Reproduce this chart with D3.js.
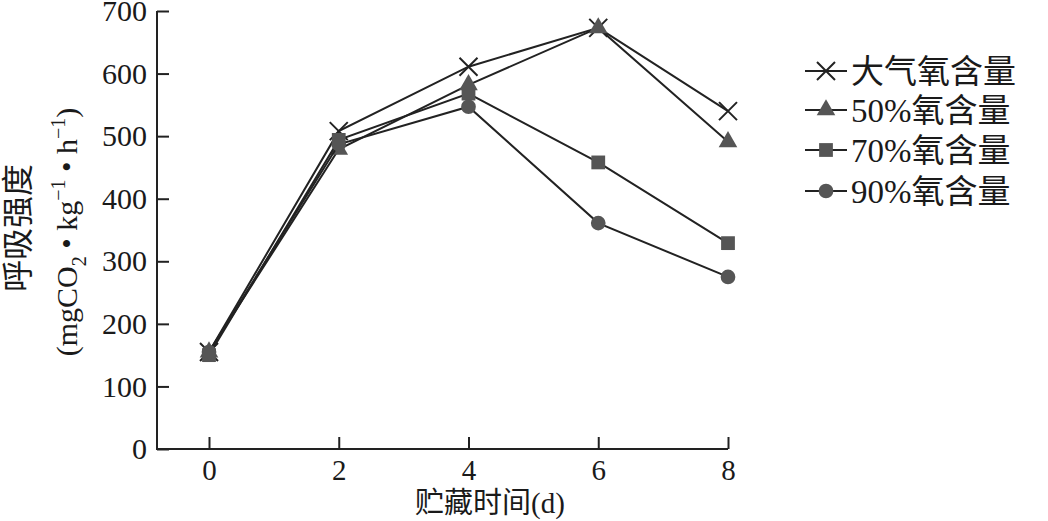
<!DOCTYPE html>
<html>
<head>
<meta charset="utf-8">
<script src="https://cdn.jsdelivr.net/npm/d3@7"></script>
<style>
  body { margin: 0; background: #fff; }
  svg text { font-family: "Liberation Serif", "Times New Roman", "Noto Sans CJK SC", serif; fill: #1a1a1a; }
</style>
</head>
<body>
<svg id="chart" width="1048" height="521"></svg>
<script>
// storage days
var days = [0, 2, 4, 6, 8];
var yTicks = [0, 100, 200, 300, 400, 500, 600, 700];

// respiration, mg CO2 / kg / h
var airO2 = [155, 508, 611, 673, 540];
var o2_50 = [155, 479, 582, 673, 491];
var o2_70 = [150, 494, 568, 458, 329];
var o2_90 = [155, 487, 547, 361, 275];

var seriesNames = ["大气氧含量", "50%氧含量", "70%氧含量", "90%氧含量"];
var seriesShapes = ["cross", "triangle", "square", "circle"];

var series = [airO2, o2_50, o2_70, o2_90].map(function(vals, i) {
    return {
        name: seriesNames[i],
        shape: seriesShapes[i],
        points: vals.map(function(v, j) { return {d: days[j], v: v}; })
    };
});

var svg = d3.select("#chart");
var ink = "#222";
var markFill = "#555";

var x = d3.scaleLinear().domain([0, 8]).range([209, 728]);
var y = d3.scaleLinear().domain([0, 700]).range([449, 11]);
var axisLeftX = 157;

// axes
var yAxis = svg.append("g")
    .attr("transform", "translate(" + axisLeftX + ",0)")
    .call(d3.axisLeft(y).tickValues(yTicks).tickSize(-12).tickPadding(10));
yAxis.select(".domain").remove();
yAxis.selectAll("line").attr("stroke", ink).attr("stroke-width", 2);
yAxis.selectAll("text").attr("font-size", 30).attr("fill", "#1a1a1a");

var xAxis = svg.append("g")
    .attr("transform", "translate(0," + y(0) + ")")
    .call(d3.axisBottom(x).tickValues(days).tickSize(-12).tickPadding(10));
xAxis.select(".domain").remove();
xAxis.selectAll("line").attr("stroke", ink).attr("stroke-width", 2);
xAxis.selectAll("text").attr("font-size", 29).attr("fill", "#1a1a1a");

svg.append("path")
    .attr("d", d3.line()([[axisLeftX, y(700)], [axisLeftX, y(0)], [x(8), y(0)]]))
    .attr("fill", "none").attr("stroke", ink).attr("stroke-width", 2);

// axis titles
svg.append("text")
    .attr("x", 490).attr("y", 513)
    .attr("text-anchor", "middle")
    .attr("font-size", 29)
    .text("贮藏时间(d)");

svg.append("text")
    .attr("transform", "translate(18,228) rotate(-90)")
    .attr("text-anchor", "middle").attr("dy", "0.35em")
    .attr("font-size", 32)
    .attr("font-family", "Noto Sans CJK SC")
    .text("呼吸强度");

var unit = svg.append("text")
    .attr("transform", "translate(66,232) rotate(-90)")
    .attr("text-anchor", "middle").attr("dy", "0.35em")
    .attr("font-size", 30);
unit.append("tspan").text("(mgCO");
unit.append("tspan").attr("font-size", 20).attr("dy", 9).text("2");
unit.append("tspan").attr("dy", -9).text(" • kg");
unit.append("tspan").attr("font-size", 20).attr("dy", -12).text("−1");
unit.append("tspan").attr("dy", 12).text(" • h");
unit.append("tspan").attr("font-size", 20).attr("dy", -12).text("−1");
unit.append("tspan").attr("dy", 12).text(")");

// markers
function drawMarker(g, shape) {
    if (shape === "cross") {
        g.append("path")
            .attr("d", "M-9,-9L9,9M-9,9L9,-9")
            .attr("stroke", ink).attr("stroke-width", 2).attr("fill", "none");
    } else if (shape === "triangle") {
        g.append("path").attr("d", d3.symbol(d3.symbolTriangle, 150)())
            .attr("fill", markFill);
    } else if (shape === "square") {
        g.append("path").attr("d", d3.symbol(d3.symbolSquare, 190)())
            .attr("fill", markFill);
    } else {
        g.append("path").attr("d", d3.symbol(d3.symbolCircle, 170)())
            .attr("fill", markFill);
    }
}

var line = d3.line().x(function(p) { return x(p.d); }).y(function(p) { return y(p.v); });

var sg = svg.selectAll(".series").data(series).enter().append("g").attr("class", "series");
sg.append("path")
    .attr("d", function(s) { return line(s.points); })
    .attr("fill", "none").attr("stroke", ink).attr("stroke-width", 2);

sg.each(function(s) {
    var g = d3.select(this);
    s.points.forEach(function(p) {
        var m = g.append("g").attr("transform", "translate(" + x(p.d) + "," + y(p.v) + ")");
        drawMarker(m, s.shape);
    });
});

// legend
var legendY = [71, 110, 150, 191];
var lg = svg.selectAll(".legend").data(series).enter().append("g")
    .attr("class", "legend")
    .attr("transform", function(s, i) { return "translate(805," + legendY[i] + ")"; });
lg.append("line").attr("x1", 0).attr("x2", 42)
    .attr("stroke", ink).attr("stroke-width", 2);
lg.each(function(s) {
    var m = d3.select(this).append("g").attr("transform", "translate(21,0)");
    drawMarker(m, s.shape);
});
lg.append("text")
    .attr("x", 46).attr("dy", "0.36em")
    .attr("font-size", 33)
    .text(function(s) { return s.name; });
</script>
</body>
</html>
